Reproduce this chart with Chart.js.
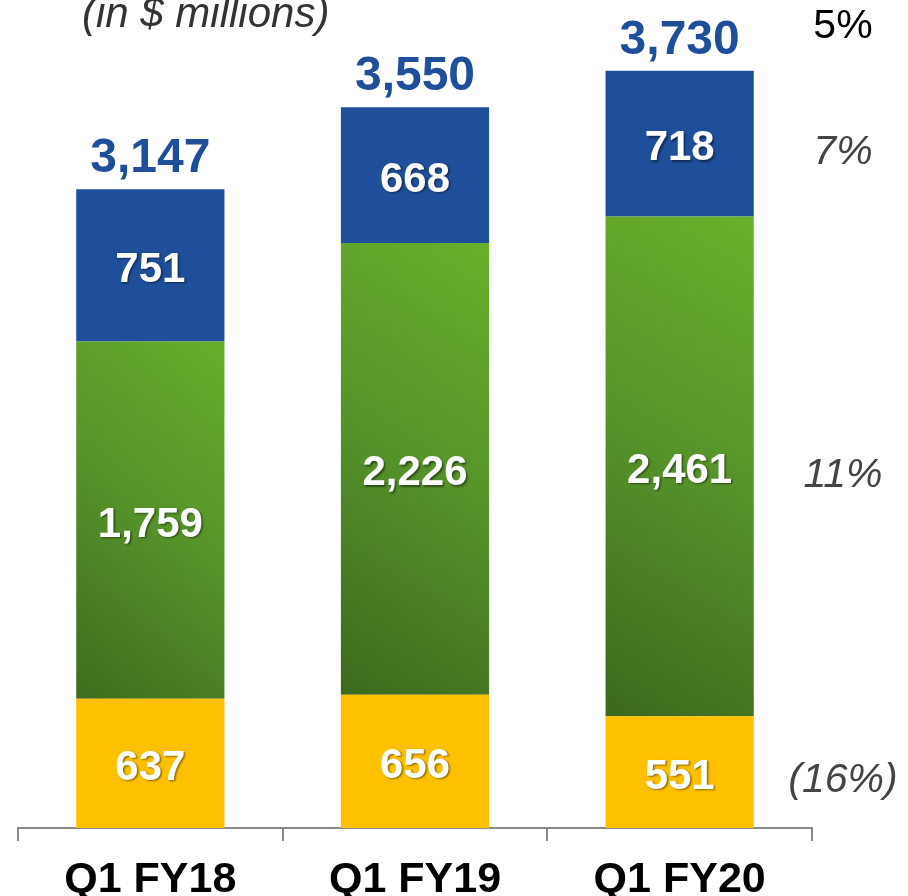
<!DOCTYPE html>
<html>
<head>
<meta charset="utf-8">
<script src="https://cdn.jsdelivr.net/npm/chart.js@4"></script>
<style>
  html, body { margin: 0; padding: 0; background: #fff; }
  #wrap { width: 908px; height: 896px; position: relative; }
</style>
</head>
<body>
<div id="wrap"><canvas id="revenueChart"></canvas></div>
<script>
// categories and segment values (in $ millions)
const quarters = ["Q1 FY18", "Q1 FY19", "Q1 FY20"];
const bottomValues = [637, 656, 551];     // yellow
const middleValues = [1759, 2226, 2461];  // green
const topValues = [751, 668, 718];        // blue

// growth labels shown to the right of the last bar
const segmentGrowth = ["(16%)", "11%", "7%"];
const totalGrowth = "5%";
const unitNote = "(in $ millions)";

const FONT = "'Liberation Sans', Arial, Helvetica, sans-serif";

// green gradient, dark bottom-left -> light top-right
function greenFill(context) {
  const chart = context.chart;
  const area = chart.chartArea;
  if (!area || context.type !== "data") return "#5a9a25";
  const xs = chart.scales.x, ys = chart.scales.y;
  const i = context.dataIndex;
  const half = (xs.width / quarters.length) * 0.56 / 2;
  const cx = xs.getPixelForValue(i);
  const y0 = ys.getPixelForValue(bottomValues[i]);
  const y1 = ys.getPixelForValue(bottomValues[i] + middleValues[i]);
  const g = chart.ctx.createLinearGradient(cx - half * 2, y0, cx + half * 2, y1);
  g.addColorStop(0, "#38621a");
  g.addColorStop(0.5, "#55922a");
  g.addColorStop(1, "#6cb52b");
  return g;
}

const labelPlugin = {
  id: "labelPlugin",
  afterDatasetsDraw(chart) {
    const ctx = chart.ctx;
    const n = chart.data.datasets.length;
    ctx.save();

    // values inside the segments
    ctx.textAlign = "center";
    ctx.textBaseline = "middle";
    ctx.font = "bold 42px " + FONT;
    ctx.fillStyle = "#ffffff";
    ctx.shadowColor = "rgba(0,0,0,0.45)";
    ctx.shadowOffsetX = 1.5;
    ctx.shadowOffsetY = 1.5;
    ctx.shadowBlur = 2;
    chart.data.datasets.forEach((ds, di) => {
      chart.getDatasetMeta(di).data.forEach((bar, j) => {
        const yc = (bar.y + bar.base) / 2;
        ctx.fillText(ds.data[j].toLocaleString("en-US"), bar.x, yc + 5);
      });
    });
    ctx.shadowColor = "transparent";

    // totals above the bars
    const topMeta = chart.getDatasetMeta(n - 1);
    ctx.font = "bold 48px " + FONT;
    ctx.fillStyle = "#1f4e9a";
    ctx.textBaseline = "alphabetic";
    quarters.forEach((q, j) => {
      const total = bottomValues[j] + middleValues[j] + topValues[j];
      const bar = topMeta.data[j];
      ctx.fillText(total.toLocaleString("en-US"), bar.x, bar.y - 17);
    });

    // growth labels next to the last bar
    const last = quarters.length - 1;
    const gx = 843;
    ctx.font = "italic 41px " + FONT;
    ctx.fillStyle = "#444444";
    ctx.textBaseline = "middle";
    segmentGrowth.forEach((txt, di) => {
      const bar = chart.getDatasetMeta(di).data[last];
      ctx.fillText(txt, gx, (bar.y + bar.base) / 2 + 9);
    });
    ctx.font = "41px " + FONT;
    ctx.fillStyle = "#000000";
    ctx.textBaseline = "alphabetic";
    ctx.fillText(totalGrowth, gx, topMeta.data[last].y - 33);

    // unit note, top left
    ctx.font = "italic 42px " + FONT;
    ctx.fillStyle = "#333333";
    ctx.textAlign = "left";
    ctx.fillText(unitNote, 82, 27);
    ctx.restore();
  }
};

new Chart(document.getElementById("revenueChart"), {
  type: "bar",
  data: {
    labels: quarters,
    datasets: [
      { label: "bottom", data: bottomValues, backgroundColor: "#ffc000" },
      { label: "middle", data: middleValues, backgroundColor: greenFill },
      { label: "top", data: topValues, backgroundColor: "#1f4e9a" }
    ]
  },
  options: {
    responsive: true,
    maintainAspectRatio: false,
    animation: false,
    layout: { padding: { left: 18, right: 96, top: 16, bottom: 0 } },
    datasets: {
      bar: { categoryPercentage: 1.0, barPercentage: 0.56, borderWidth: 0 }
    },
    scales: {
      x: {
        stacked: true,
        afterFit: (scale) => { scale.height = 68; },
        grid: {
          display: true,
          offset: true,
          drawOnChartArea: false,
          drawTicks: true,
          tickLength: 13,
          color: "#898989",
          lineWidth: 2
        },
        border: { display: true, color: "#898989", width: 2 },
        ticks: {
          color: "#000000",
          padding: 13,
          font: { family: FONT, size: 43, weight: "bold" }
        }
      },
      y: {
        stacked: true,
        display: false,
        min: 0,
        max: 4000
      }
    },
    plugins: {
      legend: { display: false },
      tooltip: { enabled: false }
    }
  },
  plugins: [labelPlugin]
});
</script>
</body>
</html>
